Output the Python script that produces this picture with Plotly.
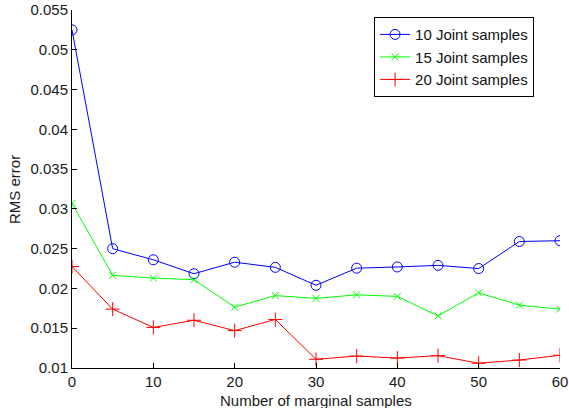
import plotly.graph_objects as go

x_vals = [0, 5, 10, 15, 20, 25, 30, 35, 40, 45, 50, 55, 60]
joint10 = [0.0525, 0.0250, 0.0236, 0.02185, 0.0233, 0.02265, 0.0204, 0.02255, 0.0227, 0.0229, 0.0225, 0.0259, 0.0260]
joint15 = [0.0307, 0.02165, 0.0213, 0.0211, 0.01765, 0.0191, 0.01875, 0.0192, 0.0190, 0.01655, 0.01945, 0.0179, 0.0174]
joint20 = [0.02275, 0.0174, 0.0151, 0.0160, 0.0147, 0.0161, 0.0111, 0.0115, 0.01125, 0.01155, 0.0106, 0.0110, 0.0116]
names = ["10 Joint samples", "15 Joint samples", "20 Joint samples"]
x_ticks = [0, 10, 20, 30, 40, 50, 60]
y_ticks = [0.01, 0.015, 0.02, 0.025, 0.03, 0.035, 0.04, 0.045, 0.05, 0.055]
y_ticktext = ["0.01", "0.015", "0.02", "0.025", "0.03", "0.035", "0.04", "0.045", "0.05", "0.055"]
x_title = "Number of marginal samples"
y_title = "RMS error"

FONT = "Liberation Sans, Arial, Helvetica, sans-serif"
FS = 15

fig = go.Figure()
fig.add_trace(go.Scatter(x=x_vals, y=joint10, name=names[0], mode="lines+markers",
                         line=dict(color="#0000ff", width=1),
                         marker=dict(symbol="circle-open", size=10, color="#0000ff", line=dict(width=1))))
fig.add_trace(go.Scatter(x=x_vals, y=joint15, name=names[1], mode="lines+markers",
                         line=dict(color="#00ff00", width=1),
                         marker=dict(symbol="x-thin-open", size=7, color="#00ff00", line=dict(width=1, color="#00ff00"))))
fig.add_trace(go.Scatter(x=x_vals, y=joint20, name=names[2], mode="lines+markers",
                         line=dict(color="#ff0000", width=1),
                         marker=dict(symbol="cross-thin-open", size=10, color="#ff0000", line=dict(width=1, color="#ff0000"))))

axis_font = dict(family=FONT, size=FS, color="#1a1a1a")
fig.update_layout(
    width=569, height=408,
    margin=dict(l=72, r=9, t=10, b=40),
    paper_bgcolor="white", plot_bgcolor="white",
    font=dict(family=FONT, size=FS, color="#1a1a1a"),
    showlegend=True,
    legend=dict(x=0.619, y=0.98, xanchor="left", yanchor="top",
                bgcolor="white", bordercolor="black", borderwidth=1,
                font=dict(family=FONT, size=FS, color="#111111"), tracegroupgap=0),
    xaxis=dict(range=[0, 60], tickvals=x_ticks, automargin=False,
               showgrid=False, zeroline=False, showline=True, linecolor="black", linewidth=1,
               ticks="inside", ticklen=5, tickcolor="black", tickfont=axis_font),
    yaxis=dict(range=[0.01, 0.055], tickvals=y_ticks, ticktext=y_ticktext, automargin=False,
               showgrid=False, zeroline=False, showline=True, linecolor="black", linewidth=1,
               ticks="inside", ticklen=5, tickcolor="black", tickfont=axis_font),
    annotations=[
        dict(text=x_title, xref="paper", yref="paper", x=0.501, y=-0.0605,
             xanchor="center", yanchor="top", showarrow=False,
             font=dict(family=FONT, size=FS, color="#1a1a1a")),
        dict(text=y_title, xref="paper", yref="paper", x=-0.1189, y=0.5,
             xanchor="center", yanchor="middle", showarrow=False, textangle=-90,
             font=dict(family=FONT, size=FS, color="#1a1a1a")),
    ],
)
fig.write_html("out.html", config={"displayModeBar": False},
               post_script="document.body.style.margin='0';document.body.style.overflow='hidden';")
